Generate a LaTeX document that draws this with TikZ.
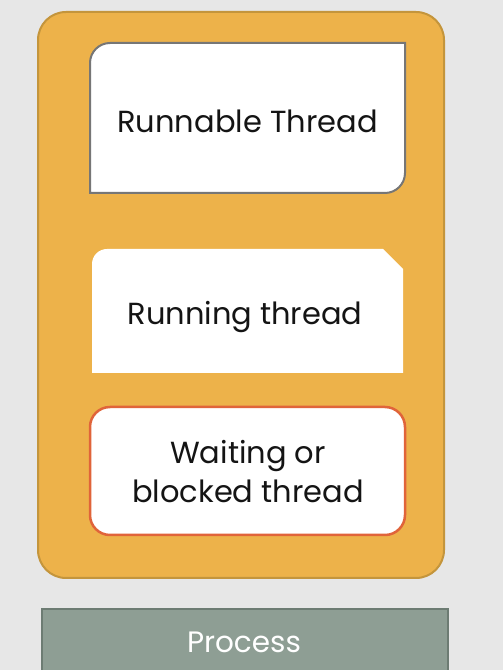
\documentclass[tikz,border=0pt]{standalone}
\usepackage{fontspec}
\setmainfont{Poppins}
\definecolor{bg}{HTML}{E7E7E7}
\definecolor{procfill}{HTML}{EDB24A}
\definecolor{procline}{HTML}{C4953C}
\definecolor{greenfill}{HTML}{8E9E94}
\definecolor{greenline}{HTML}{6D7C73}
\definecolor{waitline}{HTML}{E0643A}
\definecolor{runline}{HTML}{767676}
\definecolor{txt}{HTML}{141414}
\tikzset{
  label/.style={inner sep=0pt, text=txt, align=center},
}
\begin{document}
\begin{tikzpicture}[x=1pt,y=1pt]
\fill[bg] (0,0) rectangle (503,670);
\useasboundingbox (0,0) rectangle (503,670);
% outer process container
\draw[procline, fill=procfill, line width=2pt, rounded corners=28pt] (38,92) rectangle (444,658);
% runnable thread box
\draw[runline, fill=white, line width=2pt] (90,477) -- (90,607) arc[start angle=180, end angle=90, radius=20] -- (405,627) -- (405,497) arc[start angle=0, end angle=-90, radius=20] -- cycle;
\node[label, font=\fontsize{30.5}{36}\selectfont] (runnable) at (247.5,549) {Runnable Thread};
% running thread box
\fill[white] (92,297) -- (92,406) arc[start angle=180, end angle=90, radius=15] -- (383,421) -- (403,401) -- (403,297) -- cycle;
\node[label, font=\fontsize{30.5}{36}\selectfont] (running) at (245,353) {Running thread};
% waiting box
\draw[waitline, fill=white, line width=2.5pt, rounded corners=20pt] (90,135) rectangle (405,263);
\node[label, font=\fontsize{30.5}{39}\selectfont] (waiting) at (248,198) {Waiting or\\blocked thread};
% process bar
\draw[greenline, fill=greenfill, line width=2pt] (42,61) rectangle (448,-10);
\node[label, text=white, font=\fontsize{29.5}{34}\selectfont] (process) at (244,28) {Process};
\end{tikzpicture}
\end{document}
